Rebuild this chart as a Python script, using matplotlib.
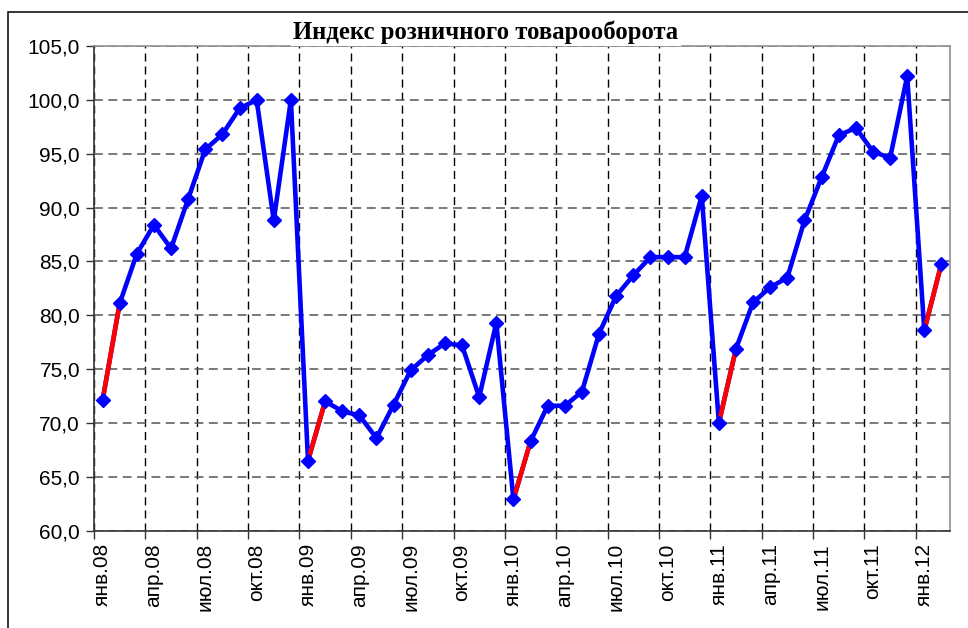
import matplotlib
matplotlib.use("Agg")
import matplotlib.pyplot as plt
from matplotlib.patches import Rectangle
import numpy as np

plt.rcParams['font.family'] = ['Liberation Sans', 'DejaVu Sans']

months = ["янв", "фев", "мар", "апр", "май", "июн", "июл", "авг", "сен", "окт", "ноя", "дек"]
years = ["08", "09", "10", "11", "12"]
labels_all = [f"{m}.{y}" for y in years for m in months][:50]

values = [
    72.1, 81.1, 85.7, 88.4, 86.2, 90.8, 95.4, 96.8, 99.2, 100.0, 88.8, 100.0,
    66.5, 72.0, 71.1, 70.7, 68.6, 71.7, 74.9, 76.3, 77.4, 77.2, 72.4, 79.3,
    62.9, 68.3, 71.6, 71.6, 72.9, 78.3, 81.8, 83.7, 85.4, 85.4, 85.4, 91.1,
    70.0, 76.9, 81.2, 82.6, 83.5, 88.8, 92.8, 96.7, 97.4, 95.2, 94.6, 102.2,
    78.6, 84.8,
]
title = "Индекс розничного товарооборота"
yticks = [60, 65, 70, 75, 80, 85, 90, 95, 100, 105]

x = np.arange(len(values))
v = np.array(values)

fig = plt.figure(figsize=(9.68, 6.28), dpi=100)
ax = fig.add_axes([94/968, 1-530.7/628, (950-94)/968, (530.7-46)/628])

# outer frame (left & top visible)
fig.add_artist(Rectangle((7.5/968, -0.2), 1.2, 1.2 - 12.3/628, transform=fig.transFigure,
                         fill=False, edgecolor='black', linewidth=1.1, clip_on=False))

ax.plot(x, v, color='#0000FF', lw=3.3, zorder=3, solid_capstyle='round', solid_joinstyle='round')
for i in range(0, len(v) - 1, 12):
    ax.plot(x[i:i+2], v[i:i+2], color='#FF0000', lw=3.3, zorder=4, solid_capstyle='butt')
ax.plot(x, v, linestyle='none', marker='D', ms=6.8, color='#0000FF', mec='#0000FF', zorder=5)

ax.set_xlim(-0.5, len(v) - 0.5)
ax.set_ylim(60, 105)
ax.set_yticks(yticks)
ax.set_yticklabels([f"{t:.1f}".replace('.', ',') for t in yticks])

bounds = np.arange(-0.5, len(v) - 0.5 + 0.01, 3)
ax.set_xticks(bounds)
ax.set_xticklabels([])
centers = np.arange(0, len(v), 3)
ax.set_xticks(centers, minor=True)
ax.set_xticklabels([labels_all[c] for c in centers], minor=True, rotation=90, fontsize=15)
ax.tick_params(axis='x', which='major', length=6, width=1, color='#333333', direction='out')
ax.tick_params(axis='x', which='minor', length=0, pad=9)
ax.tick_params(axis='y', length=6, width=1, color='#333333', labelsize=15, pad=4)

ax.grid(True, axis='x', which='major', color='black', linestyle=(0, (5.8, 3.6)), lw=1.0, zorder=1)
ax.grid(True, axis='y', which='major', color='#555555', linestyle=(0, (5.8, 3.6)), lw=1.1, zorder=1)
for s in ['left', 'bottom']:
    ax.spines[s].set_color('#333333')
    ax.spines[s].set_linewidth(1.2)
for s in ['top', 'right']:
    ax.spines[s].set_color('#909090')
    ax.spines[s].set_linewidth(1.2)

fig.text(486/968, 1-32/628, title, ha='center', va='center', fontsize=17.8,
         fontweight='bold', family=['Liberation Serif', 'DejaVu Serif'],
         bbox=dict(facecolor='white', edgecolor='none', pad=2), zorder=10)

fig.savefig("out.png", dpi=100)
